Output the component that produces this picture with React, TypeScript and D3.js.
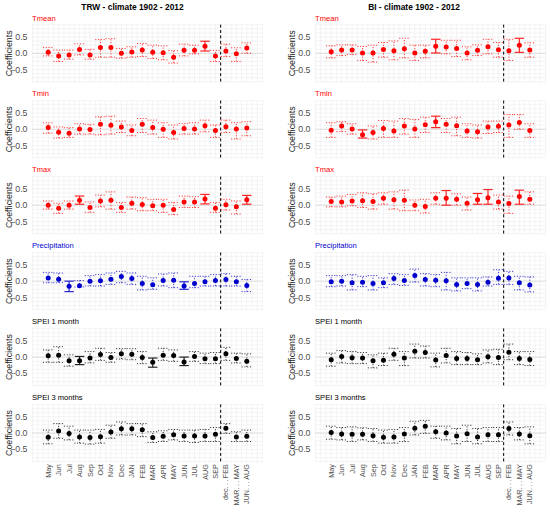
import { useEffect, useRef } from 'react';
import * as d3 from 'd3';

// [coefficient, lower, upper]
type Est = [number, number, number];

const months = ['May', 'Jun', 'Jul', 'Aug', 'Sep', 'Oct', 'Nov', 'Dec', 'JAN', 'FEB', 'MAR', 'APR', 'MAY', 'JUN', 'JUL', 'AUG', 'SEP', 'dec...FEB', 'MAR...MAY', 'JUN...AUG'];
const yTicks = [-0.5, 0, 0.5];
const columnTitles = ['TRW - climate 1902 - 2012', 'BI - climate 1902 - 2012'];
const variables = ['Tmean', 'Tmin', 'Tmax', 'Precipitation', 'SPEI 1 month', 'SPEI 3 months'];
const variableColors = ['#ff0000', '#ff0000', '#ff0000', '#0000cd', '#000000', '#000000'];

const trwTmean: Est[] = [[0.03, -0.08, 0.18], [-0.08, -0.25, 0.1], [-0.05, -0.18, 0.1], [0.12, -0.05, 0.29], [-0.05, -0.18, 0.12], [0.18, -0.12, 0.42], [0.18, -0.12, 0.45], [0.0, -0.15, 0.15], [0.04, -0.12, 0.2], [0.1, -0.1, 0.3], [0.03, -0.16, 0.25], [0.02, -0.2, 0.23], [-0.12, -0.3, 0.08], [0.09, -0.08, 0.28], [0.09, -0.02, 0.25], [0.22, 0.07, 0.37], [-0.08, -0.25, 0.09], [0.07, -0.1, 0.28], [-0.01, -0.25, 0.17], [0.16, 0.0, 0.32]];
const trwTmeanSig = [15];
const trwTmin: Est[] = [[0.05, -0.12, 0.2], [-0.09, -0.27, 0.07], [-0.12, -0.25, 0.05], [0.01, -0.15, 0.17], [-0.01, -0.15, 0.15], [0.15, -0.17, 0.38], [0.12, -0.15, 0.4], [0.07, -0.1, 0.25], [-0.04, -0.2, 0.13], [0.15, -0.1, 0.33], [0.05, -0.15, 0.28], [0.0, -0.25, 0.2], [-0.1, -0.3, 0.13], [0.02, -0.15, 0.18], [0.01, -0.15, 0.2], [0.11, -0.08, 0.28], [-0.04, -0.25, 0.13], [0.08, -0.1, 0.28], [0.01, -0.3, 0.2], [0.04, -0.2, 0.23]];
const trwTminSig: number[] = [];
const trwTmax: Est[] = [[0.0, -0.12, 0.13], [-0.09, -0.25, 0.06], [0.0, -0.12, 0.13], [0.15, 0.03, 0.28], [-0.07, -0.22, 0.1], [0.13, -0.05, 0.31], [0.15, -0.12, 0.41], [-0.07, -0.22, 0.08], [0.06, -0.12, 0.25], [0.02, -0.17, 0.23], [-0.02, -0.17, 0.18], [0.0, -0.22, 0.18], [-0.13, -0.29, 0.08], [0.1, -0.07, 0.28], [0.1, -0.07, 0.26], [0.19, 0.04, 0.33], [-0.09, -0.22, 0.08], [0.01, -0.15, 0.18], [-0.05, -0.27, 0.13], [0.17, 0.03, 0.3]];
const trwTmaxSig = [3, 15, 19];
const trwPrec: Est[] = [[0.1, -0.05, 0.27], [0.06, -0.05, 0.25], [-0.16, -0.32, 0.0], [-0.14, -0.18, 0.02], [0.0, -0.15, 0.17], [0.01, -0.15, 0.2], [0.06, -0.1, 0.25], [0.14, -0.05, 0.3], [0.08, -0.1, 0.25], [-0.07, -0.27, 0.15], [-0.11, -0.25, 0.1], [0.02, -0.15, 0.22], [0.03, -0.2, 0.25], [-0.15, -0.25, -0.02], [-0.07, -0.2, 0.15], [-0.02, -0.15, 0.15], [0.02, -0.15, 0.2], [0.05, -0.15, 0.23], [-0.02, -0.15, 0.15], [-0.13, -0.32, 0.05]];
const trwPrecSig = [2, 13];
const trwSpei1: Est[] = [[0.04, -0.16, 0.22], [0.06, -0.16, 0.32], [-0.11, -0.28, 0.07], [-0.11, -0.23, 0.02], [-0.03, -0.18, 0.17], [0.08, -0.1, 0.27], [-0.01, -0.16, 0.14], [0.1, -0.06, 0.26], [0.09, -0.08, 0.26], [-0.01, -0.2, 0.17], [-0.16, -0.31, -0.03], [0.06, -0.1, 0.27], [0.05, -0.13, 0.22], [-0.15, -0.26, 0.0], [0.02, -0.13, 0.17], [-0.05, -0.2, 0.12], [-0.05, -0.2, 0.14], [0.1, -0.1, 0.3], [-0.04, -0.18, 0.12], [-0.13, -0.3, 0.1]];
const trwSpei1Sig = [3, 10, 13];
const trwSpei3: Est[] = [[-0.13, -0.33, 0.09], [0.06, -0.16, 0.29], [-0.01, -0.21, 0.21], [-0.12, -0.31, 0.09], [-0.14, -0.34, 0.09], [-0.11, -0.31, 0.11], [0.03, -0.16, 0.24], [0.13, -0.06, 0.34], [0.13, -0.06, 0.29], [0.1, -0.11, 0.29], [-0.14, -0.29, 0.04], [-0.1, -0.26, 0.07], [-0.05, -0.21, 0.11], [-0.09, -0.26, 0.09], [-0.09, -0.29, 0.09], [-0.09, -0.26, 0.11], [-0.04, -0.26, 0.17], [0.15, -0.01, 0.29], [-0.12, -0.26, 0.04], [-0.1, -0.26, 0.09]];
const trwSpei3Sig: number[] = [];

const biTmean: Est[] = [[0.05, -0.14, 0.23], [0.1, -0.07, 0.26], [0.1, -0.04, 0.26], [0.01, -0.22, 0.21], [0.01, -0.27, 0.25], [0.12, -0.12, 0.33], [0.08, -0.2, 0.38], [0.14, -0.14, 0.46], [0.01, -0.22, 0.25], [0.06, -0.14, 0.25], [0.22, 0.01, 0.43], [0.19, -0.02, 0.4], [0.15, -0.1, 0.4], [0.01, -0.2, 0.2], [0.09, -0.07, 0.26], [0.2, -0.02, 0.43], [0.11, -0.12, 0.33], [0.08, -0.22, 0.43], [0.25, 0.03, 0.46], [0.1, -0.12, 0.32]];
const biTmeanSig = [10, 18];
const biTmin: Est[] = [[-0.03, -0.25, 0.2], [0.1, -0.07, 0.23], [0.01, -0.15, 0.17], [-0.17, -0.27, -0.02], [-0.1, -0.3, 0.1], [0.02, -0.25, 0.27], [-0.05, -0.25, 0.25], [0.1, -0.15, 0.33], [0.01, -0.25, 0.3], [0.14, -0.1, 0.37], [0.23, 0.05, 0.4], [0.15, -0.1, 0.33], [0.11, -0.2, 0.37], [-0.05, -0.25, 0.17], [-0.08, -0.27, 0.13], [0.07, -0.13, 0.25], [0.09, -0.1, 0.25], [0.13, -0.25, 0.45], [0.21, 0.0, 0.45], [-0.04, -0.25, 0.17]];
const biTminSig = [3, 10];
const biTmax: Est[] = [[0.11, -0.05, 0.25], [0.1, -0.05, 0.28], [0.13, -0.02, 0.33], [0.14, -0.07, 0.38], [0.11, -0.12, 0.35], [0.21, 0.03, 0.38], [0.17, -0.12, 0.41], [0.15, -0.17, 0.46], [0.0, -0.17, 0.16], [-0.04, -0.24, 0.18], [0.21, 0.03, 0.38], [0.21, 0.0, 0.45], [0.18, 0.0, 0.35], [0.06, -0.15, 0.25], [0.17, 0.03, 0.36], [0.23, 0.03, 0.48], [0.1, -0.12, 0.31], [0.05, -0.25, 0.28], [0.27, 0.03, 0.46], [0.18, 0.03, 0.41]];
const biTmaxSig = [11, 14, 15, 18];
const biPrec: Est[] = [[-0.02, -0.17, 0.17], [0.0, -0.15, 0.17], [-0.05, -0.27, 0.2], [-0.03, -0.17, 0.15], [-0.07, -0.27, 0.17], [-0.05, -0.2, 0.1], [0.08, -0.1, 0.23], [0.02, -0.13, 0.2], [0.17, -0.03, 0.37], [0.05, -0.15, 0.23], [0.03, -0.17, 0.2], [0.01, -0.27, 0.27], [-0.1, -0.3, 0.1], [-0.07, -0.23, 0.1], [-0.1, -0.3, 0.1], [-0.03, -0.15, 0.13], [0.09, -0.1, 0.35], [0.1, -0.1, 0.3], [-0.05, -0.27, 0.15], [-0.12, -0.33, 0.13]];
const biPrecSig: number[] = [];
const biSpei1: Est[] = [[-0.08, -0.28, 0.12], [0.02, -0.18, 0.2], [-0.02, -0.2, 0.17], [-0.03, -0.2, 0.14], [-0.11, -0.33, 0.07], [-0.1, -0.26, 0.12], [0.09, -0.1, 0.27], [-0.03, -0.26, 0.17], [0.18, -0.03, 0.4], [0.14, -0.03, 0.34], [-0.09, -0.3, 0.12], [0.05, -0.18, 0.27], [-0.04, -0.23, 0.17], [-0.04, -0.23, 0.14], [-0.08, -0.23, 0.1], [0.01, -0.18, 0.22], [-0.01, -0.23, 0.24], [0.15, -0.08, 0.4], [-0.04, -0.23, 0.17], [-0.07, -0.26, 0.17]];
const biSpei1Sig: number[] = [];
const biSpei3: Est[] = [[0.02, -0.19, 0.21], [-0.03, -0.21, 0.17], [-0.04, -0.26, 0.19], [-0.04, -0.21, 0.16], [-0.08, -0.26, 0.14], [-0.13, -0.31, 0.09], [-0.12, -0.31, 0.11], [-0.03, -0.26, 0.17], [0.15, -0.06, 0.36], [0.21, -0.01, 0.39], [0.04, -0.16, 0.21], [0.0, -0.21, 0.21], [-0.09, -0.33, 0.14], [-0.02, -0.26, 0.24], [-0.12, -0.33, 0.14], [-0.05, -0.26, 0.17], [-0.05, -0.26, 0.17], [0.14, -0.06, 0.34], [-0.03, -0.21, 0.17], [-0.08, -0.33, 0.19]];
const biSpei3Sig: number[] = [];

const columns = [
  [trwTmean, trwTmin, trwTmax, trwPrec, trwSpei1, trwSpei3],
  [biTmean, biTmin, biTmax, biPrec, biSpei1, biSpei3],
];
const columnSigs = [
  [trwTmeanSig, trwTminSig, trwTmaxSig, trwPrecSig, trwSpei1Sig, trwSpei3Sig],
  [biTmeanSig, biTminSig, biTmaxSig, biPrecSig, biSpei1Sig, biSpei3Sig],
];

const WIDTH = 550;
const HEIGHT = 514;
const FONT = '"Liberation Sans", Arial, sans-serif';

export default function App() {
  const svgRef = useRef<SVGSVGElement>(null);

  useEffect(() => {
    if (!svgRef.current) return;
    const svg = d3.select(svgRef.current);
    svg.selectAll('*').remove();

    const colOffset = [0, 283];
    const titleX = [132.5, 414];
    const firstZero = 53.3;
    const rowStep = 75.95;
    const halfSpan = 28.7;

    svg.append('rect').attr('width', WIDTH).attr('height', HEIGHT).attr('fill', '#ffffff');

    columns.forEach((panels, c) => {
      const off = colOffset[c];
      const left = 32 + off;
      const right = Math.min(263 + off, WIDTH - 4);

      const x = d3.scalePoint<string>()
        .domain(months)
        .range([32 + off, 263 + off])
        .padding(1.55);
      const step = x.step();

      svg.append('text')
        .attr('x', titleX[c])
        .attr('y', 10)
        .attr('text-anchor', 'middle')
        .attr('font-family', FONT)
        .attr('font-weight', 'bold')
        .attr('font-size', 8.4)
        .attr('fill', '#000')
        .text(columnTitles[c]);

      panels.forEach((data, r) => {
        const zero = firstZero + r * rowStep;
        const y = d3.scaleLinear().domain([-0.88, 0.88]).range([zero + halfSpan, zero - halfSpan]);
        const top = y(0.88);
        const bottom = y(-0.88);
        const color = variableColors[r];
        const sig = new Set(columnSigs[c][r]);
        const g = svg.append('g');

        // light grid every half category / 0.125 units
        const xFirst = x(months[0])!;
        const gridX: number[] = [];
        for (let k = -3; k <= 44; k++) {
          const gx = xFirst + (k * step) / 2;
          if (gx >= left - 0.5 && gx <= right + 0.5) gridX.push(gx);
        }
        g.selectAll('.gx').data(gridX).enter().append('line')
          .attr('x1', (d) => d).attr('x2', (d) => d)
          .attr('y1', top).attr('y2', bottom)
          .attr('stroke', '#ececec').attr('stroke-width', 0.6);
        const gridY = d3.range(-0.875, 0.876, 0.125);
        g.selectAll('.gy').data(gridY).enter().append('line')
          .attr('x1', left).attr('x2', right)
          .attr('y1', (d) => y(d)).attr('y2', (d) => y(d))
          .attr('stroke', '#ececec').attr('stroke-width', 0.6);
        g.append('line')
          .attr('x1', left).attr('x2', right)
          .attr('y1', y(0)).attr('y2', y(0))
          .attr('stroke', '#d6d6d6').attr('stroke-width', 0.8);

        // dashed separator between months and seasons
        const sepX = (x('SEP')! + x('dec...FEB')!) / 2;
        g.append('line')
          .attr('x1', sepX).attr('x2', sepX)
          .attr('y1', top).attr('y2', bottom)
          .attr('stroke', '#000').attr('stroke-width', 1)
          .attr('stroke-dasharray', '3,2.4');

        // strip label
        svg.append('text')
          .attr('x', left)
          .attr('y', zero - 32.8)
          .attr('font-family', FONT)
          .attr('font-size', 7.6)
          .attr('fill', color)
          .text(variables[r]);

        // y axis
        svg.append('g').selectAll('text').data(yTicks).enter().append('text')
          .attr('x', left - 4.5)
          .attr('y', (d) => y(d))
          .attr('dy', '0.35em')
          .attr('text-anchor', 'end')
          .attr('font-family', FONT)
          .attr('font-size', 8.8)
          .attr('fill', '#4d4d4d')
          .text((d) => d3.format('.1f')(d));
        svg.append('text')
          .attr('transform', `translate(${off + 9},${zero}) rotate(-90)`)
          .attr('dy', '0.35em')
          .attr('text-anchor', 'middle')
          .attr('font-family', FONT)
          .attr('font-size', 8.8)
          .attr('fill', '#1a1a1a')
          .text('Coefficients');

        const rows = data.map((d, i) => ({ m: months[i], v: d[0], lo: d[1], hi: d[2], s: sig.has(i) }));
        const plain = rows.filter((d) => !d.s);
        const strong = rows.filter((d) => d.s);
        const bw = step * 0.5;

        // dotted confidence bands
        const band = g.selectAll('.band').data(plain).enter().append('g');
        band.append('line')
          .attr('x1', (d) => x(d.m)! - bw).attr('x2', (d) => x(d.m)! + bw)
          .attr('y1', (d) => y(d.hi)).attr('y2', (d) => y(d.hi));
        band.append('line')
          .attr('x1', (d) => x(d.m)! - bw).attr('x2', (d) => x(d.m)! + bw)
          .attr('y1', (d) => y(d.lo)).attr('y2', (d) => y(d.lo));
        band.append('line')
          .attr('x1', (d) => x(d.m)!).attr('x2', (d) => x(d.m)!)
          .attr('y1', (d) => y(d.lo)).attr('y2', (d) => y(d.hi));
        band.selectAll('line')
          .attr('stroke', color).attr('stroke-width', 0.8)
          .attr('stroke-dasharray', '1.1,1.7');

        // significant: solid error bars
        const cw = step * 0.45;
        const eb = g.selectAll('.eb').data(strong).enter().append('g')
          .attr('stroke', color).attr('stroke-width', 1.2).attr('opacity', 0.85);
        eb.append('line')
          .attr('x1', (d) => x(d.m)!).attr('x2', (d) => x(d.m)!)
          .attr('y1', (d) => y(d.lo)).attr('y2', (d) => y(d.hi));
        eb.append('line')
          .attr('x1', (d) => x(d.m)! - cw).attr('x2', (d) => x(d.m)! + cw)
          .attr('y1', (d) => y(d.hi)).attr('y2', (d) => y(d.hi));
        eb.append('line')
          .attr('x1', (d) => x(d.m)! - cw).attr('x2', (d) => x(d.m)! + cw)
          .attr('y1', (d) => y(d.lo)).attr('y2', (d) => y(d.lo));

        g.selectAll('.pt').data(rows).enter().append('circle')
          .attr('cx', (d) => x(d.m)!)
          .attr('cy', (d) => y(d.v))
          .attr('r', 2.5)
          .attr('fill', color);

        // x labels on bottom row only; the "..." of season labels is set a bit wider
        if (r === panels.length - 1) {
          svg.append('g').selectAll('text').data(months).enter().append('text')
            .attr('transform', (d) => `translate(${x(d)},${bottom + 2.5}) rotate(-90)`)
            .attr('dy', '0.35em')
            .attr('text-anchor', 'end')
            .attr('font-family', FONT)
            .attr('font-size', 7.2)
            .attr('fill', '#4d4d4d')
            .each(function (d) {
              const t = d3.select(this);
              const parts = d.split('...');
              if (parts.length === 1) {
                t.text(d);
                return;
              }
              t.append('tspan').text(parts[0]);
              t.append('tspan').attr('letter-spacing', 1.4).text('...');
              t.append('tspan').text(parts[1]);
            });
        }
      });
    });
  }, []);

  return (
    <div style={{ position: 'fixed', left: 0, top: 0, width: WIDTH, height: HEIGHT, background: '#fff' }}>
      <svg ref={svgRef} width={WIDTH} height={HEIGHT} />
    </div>
  );
}
